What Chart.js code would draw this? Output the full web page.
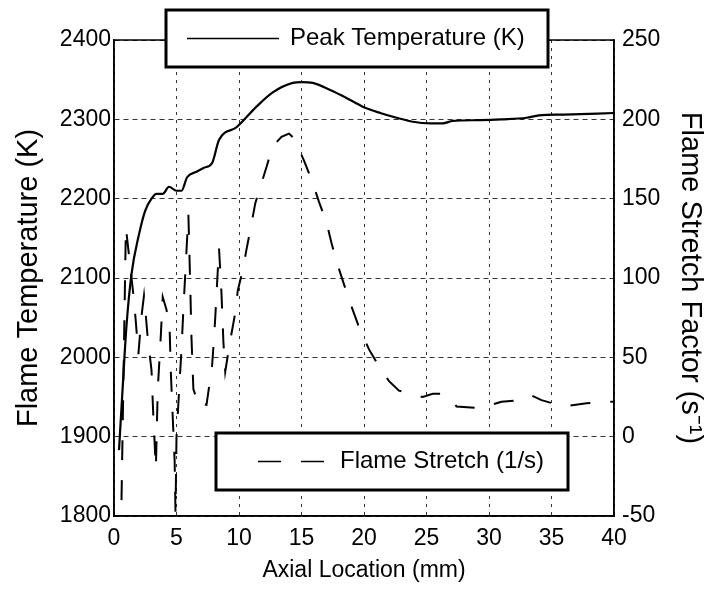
<!DOCTYPE html>
<html>
<head>
<meta charset="utf-8">
<script src="https://cdn.jsdelivr.net/npm/chart.js@4.4.1/dist/chart.umd.min.js"></script>
<style>
  html, body { margin: 0; padding: 0; background: #fff; }
</style>
</head>
<body>
<canvas id="chart" width="704" height="590"></canvas>
<script>
// peak temperature (K) along the axis
const tempX = [0.4, 0.65, 1.0, 1.4, 2.0, 2.5, 3.0, 3.4, 3.9, 4.4, 5.0, 5.4, 5.85, 6.6, 7.2, 7.85, 8.4, 9.8, 11.4, 12.7,
    14.3, 15.0, 15.9, 17.3, 18.6, 19.9, 21.3, 22.6, 23.9, 25.3, 26.3, 27.1, 29.3, 31, 33, 34, 36, 40]
const tempK = [1883, 1950, 2040, 2105, 2155, 2185, 2200, 2206, 2206, 2215, 2210, 2210, 2227, 2234, 2239, 2245, 2274, 2290, 2316, 2334,
    2346, 2347, 2346, 2337, 2327, 2316, 2308, 2302, 2297, 2295, 2295, 2298, 2299, 2300, 2302, 2305, 2306, 2308]

// flame stretch (1/s)
const stretchX = [0.6, 0.95, 1.6, 1.75, 1.95, 2.2, 2.4, 2.55, 2.7, 3.0,
    3.15, 3.35, 3.5, 3.7, 3.9, 4.2, 4.45, 4.55, 4.7, 4.85,
    4.92, 5.0, 5.2, 5.4, 5.55, 5.75, 5.95, 6.1, 6.2, 6.35,
    6.6, 6.9, 7.1, 7.4, 7.85, 8.0, 8.1, 8.4, 8.6, 8.75,
    8.9, 9.1, 9.4, 9.7, 9.9, 10.3, 10.6, 10.9, 11.3, 12.2,
    12.7, 13.4, 14.0, 14.4, 15.2, 15.8, 16.4, 17.0, 17.4, 17.9,
    18.4, 19.0, 19.6, 20.4, 21.3, 22.0, 22.8, 24.7, 25.5, 26.3,
    27.1, 27.4, 29.3, 31.0, 32.6, 33.4, 34.2, 36.0, 37.8, 39.4, 40]
const stretchS = [-40, 132, 86, 72, 52, 76, 89, 76, 62, 42,
    12, -20, 30, 57, 88, 80, 68, 40, 12, -15,
    -48, 0, 28, 55, 80, 110, 140, 95, 62, 30,
    24, 26, 21, 20, 45, 62, 75, 119, 90, 60,
    41, 51, 65, 78, 92, 105, 118, 130, 147, 170,
    183, 189, 191, 188, 174, 162, 148, 135, 122, 108,
    96, 82, 69, 55, 43, 35, 29, 25, 27, 27,
    23, 19, 18, 22, 23, 26, 23, 19, 21, 22, 22]

const xRange = [0, 40]
const tempRange = [1800, 2400]
const stretchRange = [-50, 250]

const FONT = '"Liberation Sans", Arial, Helvetica, sans-serif'

// the two boxed legend entries drawn on top of the plot
const legendBoxes = [
    { label: 'Peak Temperature (K)', dash: [], box: [166, 10, 382, 57], sample: [187, 279], textX: 290 },
    { label: 'Flame Stretch (1/s)', dash: [23, 20], box: [216, 433, 352, 57], sample: [258, 326], textX: 340 },
]

const boxedLegend = {
    id: 'boxedLegend',
    afterDatasetsDraw(chart) {
        const { ctx, chartArea: a } = chart
        ctx.save()
        ctx.strokeStyle = '#000'
        ctx.lineWidth = 1.5
        ctx.strokeRect(a.left, a.top, a.right - a.left, a.bottom - a.top)

        legendBoxes.forEach(item => {
            const [bx, by, bw, bh] = item.box
            const cy = by + bh / 2
            ctx.fillStyle = '#fff'
            ctx.fillRect(bx, by, bw, bh)
            ctx.lineWidth = 3
            ctx.setLineDash([])
            ctx.strokeRect(bx, by, bw, bh)

            ctx.lineWidth = 1.3
            ctx.setLineDash(item.dash)
            ctx.beginPath()
            ctx.moveTo(item.sample[0], cy)
            ctx.lineTo(item.sample[1], cy)
            ctx.stroke()
            ctx.setLineDash([])

            ctx.fillStyle = '#000'
            ctx.font = '24px ' + FONT
            ctx.textBaseline = 'middle'
            ctx.fillText(item.label, item.textX, cy)
        })
        ctx.restore()
    }
}

const plain = v => String(v)

const ctx = document.getElementById('chart')
new Chart(ctx, {
    type: 'line',
    data: {
        datasets: [
            {
                label: 'Peak Temperature (K)',
                data: tempX.map((x, i) => ({ x, y: tempK[i] })),
                yAxisID: 'y',
                borderColor: '#000',
                borderWidth: 2.2,
                pointRadius: 0,
                cubicInterpolationMode: 'monotone',
            },
            {
                label: 'Flame Stretch (1/s)',
                data: stretchX.map((x, i) => ({ x, y: stretchS[i] })),
                yAxisID: 'y2',
                borderColor: '#000',
                borderWidth: 2,
                borderDash: [20, 20],
                pointRadius: 0,
                tension: 0,
            },
        ]
    },
    options: {
        responsive: false,
        animation: false,
        layout: { padding: { top: 40 } },
        plugins: { legend: { display: false }, tooltip: { enabled: false } },
        scales: {
            x: {
                type: 'linear',
                min: xRange[0],
                max: xRange[1],
                afterFit: s => { s.height = 74 },
                ticks: { stepSize: 5, color: '#000', padding: 9, callback: plain, font: { family: FONT, size: 23 } },
                grid: { color: '#333', lineWidth: 1, drawTicks: false },
                border: { color: '#000', width: 1.5, dash: [3, 5] },
                title: { display: true, text: 'Axial Location (mm)', color: '#000', padding: { bottom: 6 }, font: { family: FONT, size: 23 } },
            },
            y: {
                position: 'left',
                min: tempRange[0],
                max: tempRange[1],
                afterFit: s => { s.width = 114 },
                ticks: { stepSize: 100, color: '#000', padding: 3, callback: plain, font: { family: FONT, size: 23 } },
                grid: { color: '#333', lineWidth: 1, drawTicks: false },
                border: { color: '#000', width: 1.5, dash: [5, 4] },
                title: { display: true, text: 'Flame Temperature (K)', color: '#000', padding: { top: 14 }, font: { family: FONT, size: 29, lineHeight: 1 } },
            },
            y2: {
                position: 'right',
                min: stretchRange[0],
                max: stretchRange[1],
                afterFit: s => { s.width = 90 },
                ticks: { stepSize: 50, color: '#000', padding: 8, callback: plain, font: { family: FONT, size: 23 } },
                grid: { drawOnChartArea: false, drawTicks: false },
                border: { color: '#000', width: 1.5 },
                title: { display: true, text: 'Flame Stretch Factor (s⁻¹)', color: '#000', padding: { top: 0 }, font: { family: FONT, size: 29, lineHeight: 1 } },
            },
        }
    },
    plugins: [boxedLegend]
})
</script>
</body>
</html>
